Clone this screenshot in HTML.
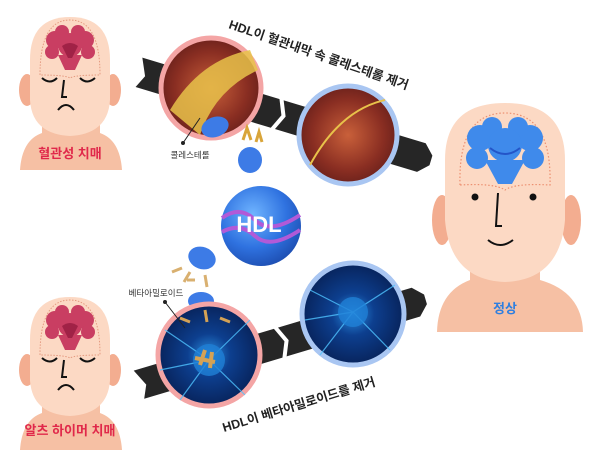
<!DOCTYPE html>
<html><head><meta charset="utf-8"><style>
html,body{margin:0;padding:0;background:#fff;}
svg{display:block;font-family:"Liberation Sans","Noto Sans CJK KR",sans-serif;}
</style></head><body>
<svg width="600" height="457" viewBox="0 0 600 457" xmlns="http://www.w3.org/2000/svg">
<defs>
<radialGradient id="vein" cx="0.5" cy="0.5" r="0.6">
<stop offset="0" stop-color="#c9603a"/><stop offset="0.6" stop-color="#8a2e22"/><stop offset="1" stop-color="#5a1a18"/>
</radialGradient>
<radialGradient id="neu" cx="0.5" cy="0.5" r="0.6">
<stop offset="0" stop-color="#2a8ee0"/><stop offset="0.35" stop-color="#0d3f8f"/><stop offset="1" stop-color="#061a4a"/>
</radialGradient>
<radialGradient id="hdl" cx="0.4" cy="0.35" r="0.7">
<stop offset="0" stop-color="#6fb4ff"/><stop offset="0.6" stop-color="#2f72e0"/><stop offset="1" stop-color="#1d4db0"/>
</radialGradient>
<g id="head">
<path d="M20,170 Q22,140 42,133 L42,115 L100,115 L100,133 Q120,140 122,170 Z" fill="#f6c0a4"/>
<ellipse cx="27" cy="90" rx="8" ry="16" fill="#f3ad90"/>
<ellipse cx="113" cy="90" rx="8" ry="16" fill="#f3ad90"/>
<path d="M30,60 Q30,17 70,17 Q110,17 110,60 L110,100 Q108,134 70,136 Q32,134 30,100 Z" fill="#fcd9c4"/>
<path d="M40,75 Q40,20 70,20 Q100,20 100,75 Q75,75 70,78 Q65,75 40,75 Z" fill="none" stroke="#e49a80" stroke-width="1" stroke-dasharray="1.5,1.5"/>
<g fill="#c93e62">
<circle cx="55" cy="40" r="9"/><circle cx="85" cy="40" r="9"/><circle cx="62" cy="32" r="7"/><circle cx="78" cy="32" r="7"/>
<circle cx="52" cy="52" r="7"/><circle cx="88" cy="52" r="7"/><circle cx="70" cy="45" r="12"/>
<path d="M58,55 L82,55 L75,70 L65,70 Z"/>
</g>
<path d="M62,46 Q70,40 78,46 L72,58 L68,58 Z" fill="#a02246"/>
<path d="M42,78 Q50,85 57,78 M80,78 Q87,85 95,78 M64,80 L62,97 L67,97 M58,110 Q66,100 74,110" fill="none" stroke="#111" stroke-width="2"/>
</g>
</defs>

<g transform="translate(138,72) rotate(16.8)">
<polygon points="0,-15 296,-15 306,-5 306,5 296,15 2,15 8,2" fill="#262626"/>
<polyline points="145,-16 152,0 145,16" fill="none" stroke="#fff" stroke-width="4"/>
</g>
<g transform="translate(138,385) rotate(-16.6)">
<polygon points="0,-15 290,-15 300,-5 300,5 290,15 2,15 8,2" fill="#262626"/>
<polyline points="148,-16 155,0 148,16" fill="none" stroke="#fff" stroke-width="4"/>
</g>

<text transform="translate(228,28) rotate(19)" font-size="12.5" font-weight="bold" fill="#222">HDL이 혈관내막 속 콜레스테롤 제거</text>
<text transform="translate(224,432) rotate(-17)" font-size="12.5" font-weight="bold" fill="#222">HDL이 베타아밀로이드를 제거</text>

<circle cx="211" cy="88" r="50" fill="url(#vein)" stroke="#f4a5a5" stroke-width="5"/>
<path d="M170,110 Q200,60 250,50 L258,70 Q215,90 200,135 Z" fill="#e8c24a" opacity="0.85"/>
<circle cx="348" cy="135" r="49" fill="url(#vein)" stroke="#a9c6f2" stroke-width="5"/>
<path d="M310,165 Q340,110 385,100" fill="none" stroke="#e8c24a" stroke-width="2"/>

<ellipse cx="215" cy="127" rx="14" ry="10" fill="#3d7be6" transform="rotate(-20 215 127)"/>
<ellipse cx="250" cy="160" rx="12" ry="13" fill="#3d7be6"/>
<path d="M243,140 l4,-12 l4,12 M256,142 l3,-10 l3,10" stroke="#d9a53a" stroke-width="3" fill="none"/>
<circle cx="183" cy="143" r="2" fill="#222"/>
<line x1="183" y1="143" x2="200" y2="118" stroke="#222" stroke-width="1"/>
<text x="190" y="158" font-size="8.5" fill="#333" text-anchor="middle">콜레스테롤</text>

<circle cx="261" cy="226" r="40" fill="url(#hdl)"/>
<path d="M222,218 Q240,205 255,220 T300,215" fill="none" stroke="#b15ad8" stroke-width="4"/>
<path d="M222,232 Q240,222 255,236 T300,230" fill="none" stroke="#b15ad8" stroke-width="4"/>
<text x="259" y="232" font-size="22" font-weight="bold" fill="#fff" text-anchor="middle">HDL</text>

<ellipse cx="202" cy="258" rx="14" ry="11" fill="#3d7be6" transform="rotate(20 202 258)"/>
<ellipse cx="201" cy="301" rx="13" ry="9" fill="#3d7be6"/>
<path d="M182,268 l-10,4 M190,272 l-6,10 M205,275 l2,12 M195,280 l-8,0" stroke="#d9b070" stroke-width="3"/>

<circle cx="209" cy="355" r="51" fill="url(#neu)" stroke="#f4a5a5" stroke-width="5"/>
<circle cx="353" cy="314" r="51" fill="url(#neu)" stroke="#a9c6f2" stroke-width="5"/>
<g stroke="#4fc3ff" stroke-width="1.2" fill="none" opacity="0.8">
<path d="M209,360 L165,330 M209,360 L250,320 M209,360 L180,400 M209,360 L245,395 M209,360 L160,370"/>
<path d="M353,312 L310,290 M353,312 L395,285 M353,312 L320,355 M353,312 L390,350 M353,312 L305,320"/>
</g>
<circle cx="209" cy="360" r="16" fill="#1f7fd6" opacity="0.8"/>
<circle cx="353" cy="312" r="15" fill="#1f7fd6" opacity="0.8"/>
<path d="M200,365 l5,-15 M210,368 l2,-16 M195,358 l20,4" stroke="#d4a255" stroke-width="4"/>
<path d="M180,318 l10,4 M220,318 l10,4 M205,310 l2,12" stroke="#d4a255" stroke-width="3"/>
<circle cx="165" cy="302" r="2" fill="#222"/>
<line x1="165" y1="302" x2="185" y2="328" stroke="#222" stroke-width="1"/>
<text x="156" y="296" font-size="8.5" fill="#333" text-anchor="middle">베타아밀로이드</text>

<use href="#head"/>
<text x="70" y="158" font-size="13" font-weight="bold" fill="#e0284a" text-anchor="middle">혈관성 치매</text>

<g transform="translate(0,280)">
<use href="#head"/>
<text x="70" y="155" font-size="13" font-weight="bold" fill="#e0284a" text-anchor="middle">알츠 하이머 치매</text>
</g>

<path d="M437,332 Q438,292 470,280 L470,260 L540,260 L540,280 Q582,292 583,332 Z" fill="#f6c0a4"/>
<ellipse cx="442" cy="220" rx="10" ry="25" fill="#f3ad90"/>
<ellipse cx="571" cy="220" rx="10" ry="25" fill="#f3ad90"/>
<path d="M445,160 Q445,103 505,103 Q565,103 565,160 L565,220 Q560,280 505,282 Q450,280 445,220 Z" fill="#fcd9c4"/>
<path d="M460,185 Q458,113 505,113 Q552,113 550,185 Q515,183 505,190 Q495,183 460,185 Z" fill="none" stroke="#ec8f70" stroke-width="1.2" stroke-dasharray="1.5,2"/>
<g fill="#3f8aeb">
<circle cx="480" cy="138" r="13"/><circle cx="530" cy="138" r="13"/><circle cx="492" cy="127" r="10"/><circle cx="518" cy="127" r="10"/>
<circle cx="477" cy="158" r="11"/><circle cx="533" cy="158" r="11"/><circle cx="505" cy="145" r="17"/>
<path d="M485,160 L525,160 L512,184 L498,184 Z"/>
</g>
<path d="M490,148 Q505,160 520,148" fill="none" stroke="#2455c8" stroke-width="2"/>
<circle cx="475" cy="197" r="3.5" fill="#111"/><circle cx="533" cy="197" r="3.5" fill="#111"/>
<path d="M498,193 L496,226 L502,226 M488,240 Q500,250 513,240" fill="none" stroke="#111" stroke-width="2"/>
<text x="505" y="313" font-size="13" font-weight="bold" fill="#2f7fe0" text-anchor="middle">정상</text>
</svg>
</body></html>
